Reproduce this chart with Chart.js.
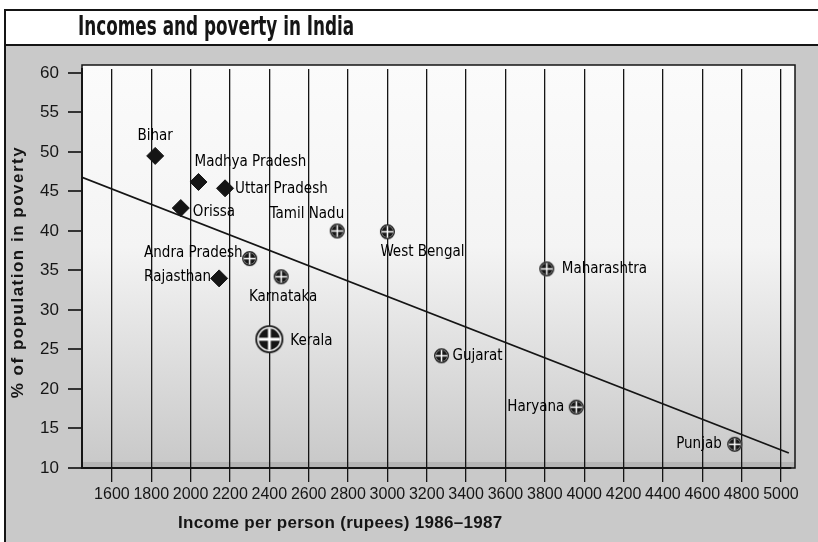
<!DOCTYPE html>
<html>
<head>
<meta charset="utf-8">
<script src="https://cdn.jsdelivr.net/npm/chart.js@4"></script>
<style>
  html, body { margin: 0; padding: 0; background: #fff; }
</style>
</head>
<body>
<canvas id="chart" width="818" height="542"></canvas>
<script>
// data
const states = ["Bihar", "Madhya Pradesh", "Uttar Pradesh", "Orissa", "Andra Pradesh", "Rajasthan", "Karnataka",
                "Kerala", "Tamil Nadu", "West Bengal", "Maharashtra", "Gujarat", "Haryana", "Punjab"];
const income = [1820, 2040, 2175, 1950, 2300, 2145, 2460, 2400, 2745, 3000, 3810, 3275, 3960, 4765];
const poverty = [49.5, 46.2, 45.4, 42.9, 36.5, 34.0, 34.2, 26.3, 40.0, 39.9, 35.2, 24.2, 17.7, 13.0];
const markerType = ["diamond", "diamond", "diamond", "diamond", "wheel", "diamond", "wheel",
                    "wheel", "wheel", "wheel", "wheel", "wheel", "wheel", "wheel"];
const trendX = [1448, 5040];
const trendY = [46.8, 11.9];
const xTicks = [1600, 1800, 2000, 2200, 2400, 2600, 2800, 3000, 3200, 3400, 3600, 3800, 4000, 4200, 4400, 4600, 4800, 5000];
const yTicks = [10, 15, 20, 25, 30, 35, 40, 45, 50, 55, 60];

const NARROW = '"DejaVu Sans Condensed", "Liberation Sans", sans-serif';
const SANS = '"Liberation Sans", Arial, sans-serif';
const INK = "#151515";

// label placement next to each marker: [dx, dy, align]
const labelPlace = {
  "Bihar": [0, -20, "center"],
  "Madhya Pradesh": [-4, -20, "left"],
  "Uttar Pradesh": [10, 1, "left"],
  "Orissa": [12, 4, "left"],
  "Andra Pradesh": [-7, -6, "right"],
  "Rajasthan": [-8, -1, "right"],
  "Karnataka": [2, 20, "center"],
  "Kerala": [21, 2, "left"],
  "Tamil Nadu": [7, -17, "right"],
  "West Bengal": [-7, 20, "left"],
  "Maharashtra": [15, 0, "left"],
  "Gujarat": [11, 0, "left"],
  "Haryana": [-12, 0, "right"],
  "Punjab": [-13, 0, "right"]
};

function makeWheel(r) {
  const c = document.createElement("canvas");
  const s = Math.ceil(r * 2 + 4);
  c.width = s; c.height = s;
  const g = c.getContext("2d");
  const m = s / 2;
  g.fillStyle = "#fff";
  g.beginPath(); g.arc(m, m, r, 0, Math.PI * 2); g.fill();
  g.lineWidth = Math.max(1.4, r * 0.13);
  g.strokeStyle = INK;
  g.beginPath(); g.arc(m, m, r - g.lineWidth / 2, 0, Math.PI * 2); g.stroke();
  const ir = r * 0.76;
  g.fillStyle = INK;
  g.beginPath(); g.arc(m, m, ir, 0, Math.PI * 2); g.fill();
  g.strokeStyle = "#fff";
  g.lineWidth = Math.max(1.4, r * 0.2);
  g.beginPath();
  g.moveTo(m - ir, m); g.lineTo(m + ir, m);
  g.moveTo(m, m - ir); g.lineTo(m, m + ir);
  g.stroke();
  return c;
}
const smallWheel = makeWheel(7.5);
const bigWheel = makeWheel(14);

const backdrop = {
  id: "backdrop",
  beforeDraw(chart) {
    const ctx = chart.ctx, a = chart.chartArea;
    ctx.save();
    ctx.fillStyle = "#fff";
    ctx.fillRect(0, 0, chart.width, chart.height);
    // grey speckled panel
    ctx.fillStyle = "#c9c9c9";
    ctx.fillRect(5, 45, chart.width - 5, chart.height - 45);
    // frame and title band
    ctx.strokeStyle = INK;
    ctx.lineWidth = 2;
    ctx.beginPath();
    ctx.moveTo(5, chart.height); ctx.lineTo(5, 10); ctx.lineTo(chart.width, 10);
    ctx.moveTo(5, 45); ctx.lineTo(chart.width, 45);
    ctx.stroke();
    // title, squeezed to the condensed look of the original
    ctx.save();
    ctx.translate(78, 28);
    ctx.scale(0.72, 1);
    ctx.fillStyle = INK;
    ctx.font = 'bold 26px ' + NARROW;
    ctx.textBaseline = "middle";
    ctx.fillText("Incomes and poverty in India", 0, 0);
    ctx.restore();
    // plot wall
    const top = a.top - 4;
    const grad = ctx.createLinearGradient(0, top, 0, a.bottom);
    grad.addColorStop(0, "#fbfbfb");
    grad.addColorStop(0.45, "#f4f4f4");
    grad.addColorStop(1, "#c8c8c8");
    ctx.fillStyle = grad;
    ctx.fillRect(a.left, top, a.right - a.left + 4, a.bottom - top);
    // floor band
    ctx.fillStyle = "#b5b5b5";
    ctx.fillRect(a.left, a.bottom - 6, a.right - a.left + 4, 6);
    ctx.strokeStyle = INK;
    ctx.lineWidth = 1.5;
    ctx.strokeRect(a.left, top, a.right - a.left + 4, a.bottom - top);
    ctx.restore();
  },
  afterDraw(chart) {
    // axis titles, letter-spaced like the print
    const ctx = chart.ctx;
    ctx.save();
    ctx.fillStyle = INK;
    ctx.textBaseline = "middle";
    ctx.font = 'bold 17px ' + SANS;
    ctx.letterSpacing = "0.3px";
    ctx.textAlign = "left";
    ctx.fillText("Income per person (rupees) 1986–1987", 178, 523);
    ctx.translate(18, 272);
    ctx.rotate(-Math.PI / 2);
    ctx.letterSpacing = "1.5px";
    ctx.textAlign = "center";
    ctx.fillText("% of population in poverty", 0, 0);
    ctx.restore();
  }
};

const stateLabels = {
  id: "stateLabels",
  afterDatasetsDraw(chart) {
    const ctx = chart.ctx;
    const meta = chart.getDatasetMeta(0);
    ctx.save();
    ctx.fillStyle = "#000";
    ctx.font = '15px ' + NARROW;
    ctx.textBaseline = "middle";
    meta.data.forEach((pt, i) => {
      const p = labelPlace[states[i]] || [10, 0, "left"];
      ctx.textAlign = p[2];
      ctx.fillText(states[i], pt.x + p[0], pt.y + p[1]);
    });
    ctx.restore();
  }
};

new Chart(document.getElementById("chart"), {
  type: "scatter",
  data: {
    datasets: [{
      label: "States",
      data: income.map((v, i) => ({ x: v, y: poverty[i] })),
      pointStyle: ctx => markerType[ctx.dataIndex] === "diamond" ? "rectRot"
        : (states[ctx.dataIndex] === "Kerala" ? bigWheel : smallWheel),
      pointRadius: 8.5,
      pointBackgroundColor: INK,
      pointBorderColor: INK,
      pointBorderWidth: 1,
      order: 1
    }, {
      type: "line",
      label: "Trend",
      data: trendX.map((v, i) => ({ x: v, y: trendY[i] })),
      borderColor: INK,
      borderWidth: 1.8,
      pointRadius: 0,
      fill: false,
      order: 2
    }]
  },
  options: {
    responsive: false,
    animation: false,
    devicePixelRatio: 1,
    layout: { padding: { top: 69, right: 27, left: 0, bottom: 0 } },
    plugins: {
      legend: { display: false },
      tooltip: { enabled: false }
    },
    scales: {
      x: {
        type: "linear",
        min: 1448,
        max: 5051,
        afterFit: s => { s.height = 74; },
        afterBuildTicks: s => { s.ticks = xTicks.map(v => ({ value: v })); },
        grid: { color: INK, lineWidth: 1.3, tickLength: 14, drawOnChartArea: true },
        border: { color: INK, width: 2 },
        ticks: {
          color: INK, font: { family: SANS, size: 16 }, padding: 3, maxRotation: 0, autoSkip: false,
          callback: v => String(v)
        },
        title: { display: false }
      },
      y: {
        min: 10,
        max: 60.5,
        afterFit: s => { s.width = 82; },
        afterBuildTicks: s => { s.ticks = yTicks.map(v => ({ value: v })); },
        grid: { color: "#333", lineWidth: 2, tickLength: 14, drawOnChartArea: false },
        border: { color: INK, width: 2 },
        ticks: { color: INK, font: { family: SANS, size: 17 }, padding: 9 },
        title: { display: false }
      }
    }
  },
  plugins: [backdrop, stateLabels]
});
</script>
</body>
</html>
